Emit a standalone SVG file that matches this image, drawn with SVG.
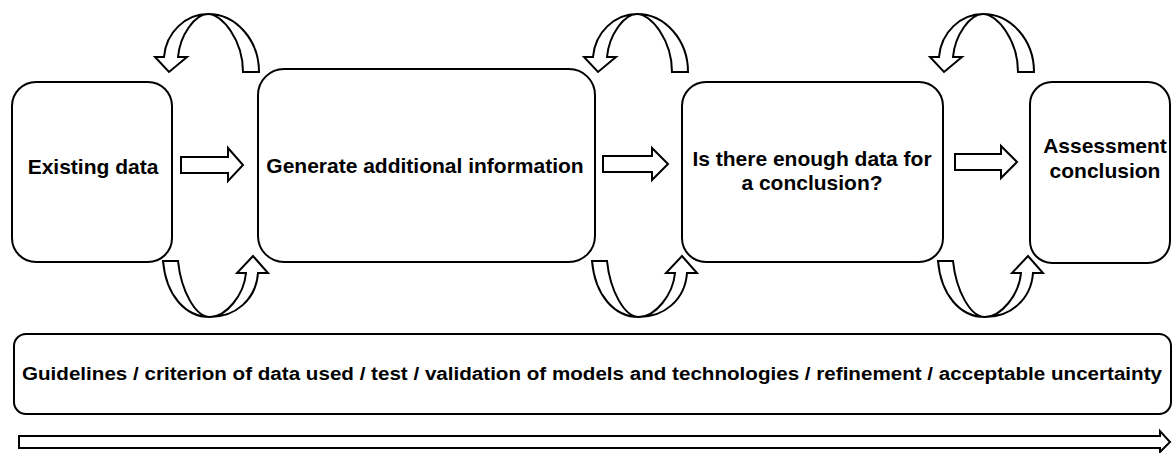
<svg xmlns="http://www.w3.org/2000/svg" width="1174" height="453" viewBox="0 0 1174 453">
<style>
.box{fill:#fff;stroke:#000;stroke-width:2}
.arr{fill:#fff;stroke:#000;stroke-width:2;stroke-linejoin:miter}
.t{font-family:"Liberation Sans",Arial,sans-serif;font-weight:bold;font-size:21px;fill:#000;text-anchor:middle}
.g{font-family:"Liberation Sans",Arial,sans-serif;font-weight:bold;font-size:18px;fill:#000;text-anchor:middle}
</style>
<defs>
<path id="topLoop" d="M243,72 L259,72 C259,40 236,14 208,14 C186,14 166,32 164,57 L155,57 L169,72 L187,57 L178,57 C180,35 195,14 208,14 C222,14 243,40 243,72 Z"/>
<path id="botLoop" d="M163,261 L178,261 C181,290 195,317 210,317 C226,317 244,295 246,273 L237,273 L253,256 L268,273 L258,273 C256,300 235,317 210,317 C185,317 166,295 163,261 Z"/>
</defs>
<rect width="1174" height="453" fill="#fff"/>
<g id="node-existing">
<rect class="box" x="12" y="82" width="160" height="180" rx="24"/>
<text class="t" x="93" y="174">Existing data</text>
</g>
<g id="node-generate">
<rect class="box" x="258" y="69" width="337" height="193" rx="26"/>
<text class="t" x="425" y="173">Generate additional information</text>
</g>
<g id="node-enough">
<rect class="box" x="682" y="82" width="261" height="180" rx="24"/>
<text class="t" x="812" y="166">Is there enough data for</text>
<text class="t" x="812" y="190">a conclusion?</text>
</g>
<g id="node-assessment">
<rect class="box" x="1030" y="82" width="140" height="181" rx="22"/>
<text class="t" x="1105" y="153">Assessment</text>
<text class="t" x="1105" y="178">conclusion</text>
</g>
<g id="node-guidelines">
<rect class="box" x="14" y="334" width="1157" height="80" rx="12"/>
<text class="g" x="592" y="380" textLength="1140" lengthAdjust="spacingAndGlyphs">Guidelines / criterion of data used / test / validation of models and technologies / refinement / acceptable uncertainty</text>
</g>
<g id="connectors">
<polygon class="arr" points="181,157 228,157 228,148 243,165 228,181 228,173 181,173"/>
<polygon class="arr" points="603,156 652,156 652,148 668,164 652,180 652,172 603,172"/>
<polygon class="arr" points="955,154 1001,154 1001,146 1017,162 1001,178 1001,170 955,170"/>
<use href="#topLoop" class="arr"/>
<use href="#topLoop" class="arr" transform="translate(429,0)"/>
<use href="#topLoop" class="arr" transform="translate(775,0)"/>
<use href="#botLoop" class="arr"/>
<use href="#botLoop" class="arr" transform="translate(429,0)"/>
<use href="#botLoop" class="arr" transform="translate(775,0)"/>
<polygon class="arr" points="19,436 1160,436 1160,431 1170,442 1160,452 1160,448 19,448"/>
</g>
</svg>
